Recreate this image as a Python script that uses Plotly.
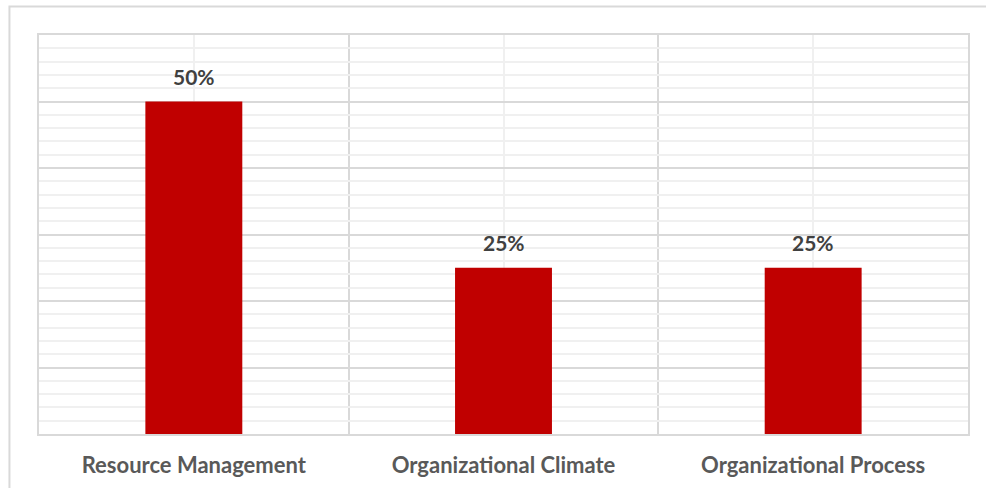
import plotly.graph_objects as go

categories = ["Resource Management", "Organizational Climate", "Organizational Process"]
shares = [0.50, 0.25, 0.25]

BAR_COLOR = "#C00000"
MAJOR_GRID = "#d9d9d9"
MINOR_GRID = "#f0f0f0"
FONT = "Lato"

positions = list(range(len(categories)))

fig = go.Figure(
    go.Bar(
        x=positions,
        y=shares,
        width=0.313,
        marker=dict(color=BAR_COLOR, line=dict(width=0)),
        hoverinfo="skip",
    )
)

# value labels sitting above each bar
for xi, v in zip(positions, shares):
    fig.add_annotation(
        x=xi, y=v, text=f"<b>{v:.0%}</b>", showarrow=False,
        yanchor="bottom", yshift=11,
        font=dict(family=FONT, size=21, color="#404040"),
    )

# outer chart frame
fig.add_shape(
    type="rect", xref="paper", yref="paper",
    x0=-0.0318, x1=1.2, y0=-0.3, y1=1.0714,
    line=dict(color=MAJOR_GRID, width=2), fillcolor="rgba(0,0,0,0)", layer="below",
)

fig.update_layout(
    width=986, height=488,
    margin=dict(l=39, r=18, t=35, b=54, autoexpand=False),
    paper_bgcolor="white", plot_bgcolor="white",
    showlegend=False,
    xaxis=dict(
        range=[-0.5, 2.5],
        tickmode="array", tickvals=positions, ticktext=[f"<b>{c}</b>" for c in categories],
        tickfont=dict(family=FONT, size=22, color="#595959"),
        ticks="", ticklabelstandoff=11, automargin=False,
        showgrid=True, gridcolor=MINOR_GRID, gridwidth=2,
        minor=dict(tickmode="array", tickvals=[0.5, 1.5], showgrid=True,
                   gridcolor=MAJOR_GRID, gridwidth=2, ticks=""),
        showline=True, mirror=True, linecolor=MAJOR_GRID, linewidth=2,
        zeroline=False, fixedrange=True,
    ),
    yaxis=dict(
        range=[0, 0.6], dtick=0.1, tick0=0,
        showticklabels=False, ticks="", automargin=False,
        showgrid=True, gridcolor=MAJOR_GRID, gridwidth=2,
        minor=dict(dtick=0.02, showgrid=True, gridcolor=MINOR_GRID, gridwidth=2, ticks=""),
        showline=True, mirror=True, linecolor=MAJOR_GRID, linewidth=2,
        zeroline=False, fixedrange=True,
    ),
)

fig.write_html("out.html")
